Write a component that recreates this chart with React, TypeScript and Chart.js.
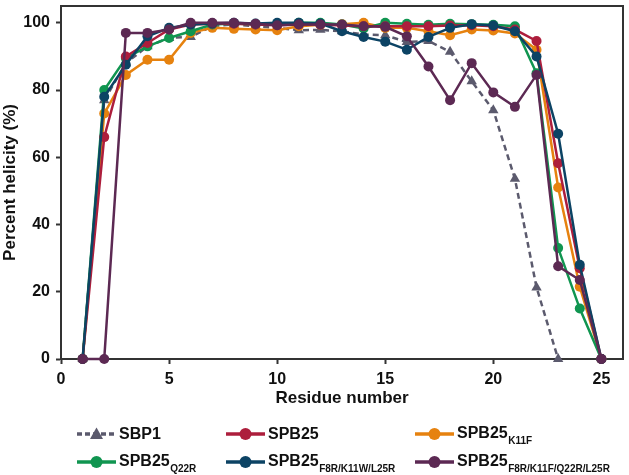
import React, { useEffect, useRef } from "react";
import { Chart, registerables } from "chart.js";

Chart.register(...registerables);

const residues = [1, 2, 3, 4, 5, 6, 7, 8, 9, 10, 11, 12, 13, 14, 15, 16, 17, 18, 19, 20, 21, 22, 23, 24, 25];
const sbp1Residues = [1, 2, 3, 4, 5, 6, 7, 8, 9, 10, 11, 12, 13, 14, 15, 16, 17, 18, 19, 20, 21, 22, 23];

const sbp1 = [0, 77, 88, 93, 95.5, 95.8, 99, 99.5, 99, 98.5, 97.8, 97.9, 97.5, 96.5, 96.3, 94.3, 94.6, 91.4, 82.6, 74, 53.6, 21.3, 0];
const spb25 = [0, 66, 90, 94, 98, 99.5, 99.7, 99.7, 99.5, 99.3, 99.5, 99.5, 99.2, 99, 99, 99, 99, 99.2, 99.3, 99, 98, 94.6, 58.2, 27, 0];
const spb25K11F = [0, 73, 84.5, 89, 89, 97, 98.5, 98.2, 98, 97.8, 99, 99.4, 99.6, 100, 98.5, 98.5, 97.5, 96.3, 98, 97.7, 96.8, 92, 51, 21.5, 0];
const spb25Q22R = [0, 80, 89.5, 93, 95.5, 97.5, 99.5, 99.8, 99.5, 99.6, 100, 100, 99.5, 98.3, 100, 99.7, 99.4, 99.7, 99.6, 99.4, 99, 85, 33, 15, 0];
const spb25Triple = [0, 78, 87.5, 96, 98.5, 99.5, 99.8, 100, 99.8, 100, 100, 99.8, 97.5, 95.8, 94.4, 92, 95.8, 98.5, 99.6, 99.2, 97.5, 90, 67, 28, 0];
const spb25Quad = [0, 0, 97, 97, 98, 100, 100, 100, 99.7, 99.3, 99.5, 99.5, 99.5, 99, 98.8, 96, 87, 77, 88, 79.3, 75, 84.5, 27.6, 23.5, 0];

const xTicks = [0, 5, 10, 15, 20, 25];
const yTicks = [0, 20, 40, 60, 80, 100];

const C_SBP1 = "#5b5a6d";
const C_RED = "#ad1e3c";
const C_ORANGE = "#e6820f";
const C_GREEN = "#109550";
const C_NAVY = "#0c4364";
const C_PURPLE = "#5c2953";

const FONT = "'Liberation Sans', Arial, sans-serif";

const toXY = (xs: number[], ys: number[]) => xs.map((x, i) => ({ x, y: ys[i] }));

const frame = {
  id: "frame",
  beforeDatasetsDraw(chart: any) {
    const { ctx, chartArea } = chart;
    ctx.save();
    ctx.strokeStyle = "#333333";
    ctx.lineWidth = 2;
    ctx.strokeRect(chartArea.left, chartArea.top, chartArea.right - chartArea.left, chartArea.bottom - chartArea.top);
    ctx.restore();
  },
};

type LegendItem = { color: string; name: string; sub?: string; dashed?: boolean; triangle?: boolean; x: number; y: number };

const legendItems: LegendItem[] = [
  { color: C_SBP1, name: "SBP1", dashed: true, triangle: true, x: 76, y: 434 },
  { color: C_RED, name: "SPB25", x: 225, y: 434 },
  { color: C_ORANGE, name: "SPB25", sub: "K11F", x: 414, y: 434 },
  { color: C_GREEN, name: "SPB25", sub: "Q22R", x: 76, y: 462 },
  { color: C_NAVY, name: "SPB25", sub: "F8R/K11W/L25R", x: 225, y: 462 },
  { color: C_PURPLE, name: "SPB25", sub: "F8R/K11F/Q22R/L25R", x: 414, y: 462 },
];

function LegendIcon({ item }: { item: LegendItem }) {
  return (
    <svg width={42} height={16} style={{ display: "block" }}>
      <line
        x1={1}
        y1={8}
        x2={40}
        y2={8}
        stroke={item.color}
        strokeWidth={3.5}
        strokeDasharray={item.dashed ? "5 3" : undefined}
      />
      {item.triangle ? (
        <polygon points="20.5,1.5 27,13 14,13" fill={item.color} />
      ) : (
        <circle cx={20.5} cy={8} r={6} fill={item.color} />
      )}
    </svg>
  );
}

export default function App() {
  const ref = useRef<HTMLCanvasElement>(null);

  useEffect(() => {
    document.body.style.margin = "0";
    const canvas = ref.current!;
    const base = {
      borderWidth: 2.5,
      pointRadius: 5,
      pointHoverRadius: 5,
      pointBorderWidth: 0,
      clip: false as any,
      tension: 0,
    };
    const chart = new Chart(canvas, {
      type: "line",
      data: {
        datasets: [
          { ...base, label: "SBP1", data: toXY(sbp1Residues, sbp1), borderColor: C_SBP1, backgroundColor: C_SBP1, borderDash: [6, 4], pointStyle: "triangle", pointRadius: 6, order: 5 },
          { ...base, label: "SPB25", data: toXY(residues, spb25), borderColor: C_RED, backgroundColor: C_RED, order: 2 },
          { ...base, label: "SPB25 K11F", data: toXY(residues, spb25K11F), borderColor: C_ORANGE, backgroundColor: C_ORANGE, order: 4 },
          { ...base, label: "SPB25 Q22R", data: toXY(residues, spb25Q22R), borderColor: C_GREEN, backgroundColor: C_GREEN, order: 3 },
          { ...base, label: "SPB25 F8R/K11W/L25R", data: toXY(residues, spb25Triple), borderColor: C_NAVY, backgroundColor: C_NAVY, order: 1 },
          { ...base, label: "SPB25 F8R/K11F/Q22R/L25R", data: toXY(residues, spb25Quad), borderColor: C_PURPLE, backgroundColor: C_PURPLE, order: 0 },
        ],
      },
      options: {
        animation: false,
        responsive: false,
        devicePixelRatio: 1,
        events: [],
        layout: { padding: { left: 0, top: 2, right: 4, bottom: 65 } },
        plugins: { legend: { display: false }, tooltip: { enabled: false } },
        scales: {
          x: {
            type: "linear",
            min: 0,
            max: 26,
            afterBuildTicks: (s: any) => {
              s.ticks = xTicks.map((v) => ({ value: v }));
            },
            afterFit: (s: any) => {
              s.height = 51;
              s.paddingLeft = 0;
              s.paddingRight = 0;
            },
            grid: { display: true, drawOnChartArea: false, drawTicks: true, tickLength: 5, tickWidth: 2, tickColor: "#333333" },
            border: { display: true, color: "#333333", width: 2 },
            ticks: { color: "#111111", padding: 6, maxRotation: 0, font: { family: FONT, size: 16, weight: "bold" } },
            title: { display: true, text: "Residue number", color: "#111111", padding: { top: 0, bottom: 1 }, font: { family: FONT, size: 17, weight: "bold" } },
          },
          y: {
            type: "linear",
            min: 0,
            max: 105,
            afterBuildTicks: (s: any) => {
              s.ticks = yTicks.map((v) => ({ value: v }));
            },
            afterFit: (s: any) => {
              s.width = 61;
              s.paddingTop = 0;
              s.paddingBottom = 0;
            },
            grid: { display: true, drawOnChartArea: false, drawTicks: true, tickLength: 5, tickWidth: 2, tickColor: "#333333" },
            border: { display: true, color: "#333333", width: 2 },
            ticks: { color: "#111111", padding: 6, font: { family: FONT, size: 16, weight: "bold" } },
            title: { display: true, text: "Percent helicity (%)", color: "#111111", padding: { top: 0, bottom: 0 }, font: { family: FONT, size: 17, weight: "bold" } },
          },
        },
      } as any,
      plugins: [frame],
    });
    return () => chart.destroy();
  }, []);

  return (
    <div style={{ position: "relative", width: 629, height: 475, background: "#ffffff", overflow: "hidden" }}>
      <canvas ref={ref} width={629} height={475} style={{ display: "block", width: 629, height: 475 }} />
      {legendItems.map((it, i) => (
        <div
          key={i}
          style={{
            position: "absolute",
            left: it.x,
            top: it.y - 8,
            height: 16,
            display: "flex",
            alignItems: "center",
            fontFamily: FONT,
            fontWeight: "bold",
            fontSize: 16,
            color: "#111111",
            whiteSpace: "nowrap",
          }}
        >
          <LegendIcon item={it} />
          <span style={{ marginLeft: 1, lineHeight: "16px" }}>
            {it.name}
            {it.sub ? (
              <span style={{ fontSize: 10, position: "relative", top: 6, marginLeft: 0.5 }}>{it.sub}</span>
            ) : null}
          </span>
        </div>
      ))}
    </div>
  );
}
